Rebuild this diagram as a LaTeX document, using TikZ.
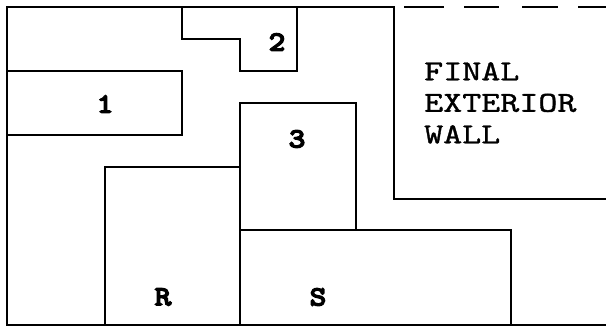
\documentclass[tikz,border=0pt]{standalone}
\usepackage{fontspec}
\newfontfamily\walltextfont{lmmono10-regular.otf}[FakeStretch=1.25,FakeBold=1.2]
\newfontfamily\labfont{lmmonolt10-bold.otf}[FakeStretch=1.15,FakeBold=4]
\tikzset{
  wall/.style={line width=1.6pt, line cap=rect, black},
  roomlabel/.style={font=\labfont\fontsize{28}{28}\selectfont, inner sep=0pt, anchor=center},
  walltext/.style={font=\walltextfont\fontsize{29}{31.5}\selectfont, align=left, inner sep=0pt, anchor=north west}
}
\begin{document}
\begin{tikzpicture}[x=1pt,y=-1pt]
\useasboundingbox (0,0) rectangle (606,326);
\fill[white] (0,0) rectangle (606,326);
% outer frame
\draw[wall] (394,7) -- (7,7) -- (7,325) -- (606,325);
% final wall boundary
\draw[wall] (394,7) -- (394,199) -- (606,199);
% dashed top
\draw[wall] (405,7) -- (443,7);
\draw[wall] (465,7) -- (498,7);
\draw[wall] (523,7) -- (557,7);
\draw[wall] (579,7) -- (606,7);
% room 2
\draw[wall] (182,7) -- (182,39) -- (240,39) -- (240,71) -- (297,71) -- (297,7);
% room 1
\draw[wall] (7,71) -- (182,71) -- (182,135) -- (7,135);
% room 3
\draw[wall] (240,230) -- (240,103) -- (356,103) -- (356,230);
% room R
\draw[wall] (105,325) -- (105,167) -- (240,167) -- (240,325);
% room S
\draw[wall] (240,230) -- (511,230) -- (511,325);
% labels
\node[roomlabel] (l1) at (105,104) {1};
\node[roomlabel] (l2) at (277,42) {2};
\node[roomlabel] (l3) at (297,139) {3};
\node[roomlabel] (lR) at (163,297) {R};
\node[roomlabel] (lS) at (318,297) {S};
\node[walltext] (fw) at (424,62) {FINAL\\EXTERIOR\\WALL};
\end{tikzpicture}
\end{document}
